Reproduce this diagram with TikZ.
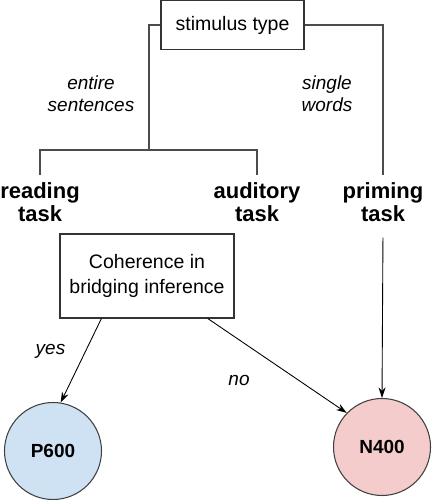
\documentclass[tikz,border=0pt]{standalone}
\usepackage{fontspec}
\setmainfont{Liberation Sans}
\usetikzlibrary{arrows.meta}

\definecolor{p600blue}{HTML}{CFE2F3}
\definecolor{n400red}{HTML}{F4CCCC}

\begin{document}
\begin{tikzpicture}[
    box/.style={draw=black!80, line width=0.6pt, inner sep=0pt, align=center, font=\fontsize{11.1}{14.2}\selectfont},
    task/.style={align=center, inner sep=4pt, font=\bfseries\fontsize{12.5}{13.1}\selectfont},
    note/.style={align=center, inner sep=0pt, font=\itshape\fontsize{10.8}{12.5}\selectfont},
    erp/.style={circle, draw=black!75, line width=0.6pt, minimum size=1.94cm, inner sep=0pt, font=\bfseries\fontsize{10.8}{12}\selectfont},
    branch/.style={draw=black!70, line width=0.7pt},
    arr/.style={-{Stealth[length=6pt,width=4pt]}, line width=0.5pt}
]
    \useasboundingbox (0,0) rectangle (8.7,10);

    \node[box, minimum width=2.86cm, minimum height=0.98cm] (stim) at (4.65, 9.5) {stimulus type};

    \node[task] (reading) at (0.8, 5.96) {reading\\task};
    \node[task] (auditory) at (5.14, 5.96) {auditory\\task};
    \node[task] (priming) at (7.66, 5.96) {priming\\task};

    \coordinate (split) at (2.98, 7.0);
    \draw[branch] (stim.west) -| (split);
    \draw[branch] (reading.north) |- (split) -| (auditory.north);
    \draw[branch] (stim.east) -| (priming.north);

    \node[note] (entire) at (1.82, 8.12) {entire\\sentences};
    \node[note] (single) at (6.54, 8.12) {single\\words};

    \node[box, minimum width=3.48cm, minimum height=1.68cm] (coh) at (2.94, 4.48) {Coherence in\\bridging inference};

    \node[erp, fill=p600blue] (p600) at (1.06, 0.98) {P600};
    \node[erp, fill=n400red] (n400) at (7.64, 1.06) {N400};

    \draw[arr] (coh.223) -- (p600.81);
    \draw[arr] (coh.325) -- (n400.136);
    \draw[arr, shorten <=5pt] (priming.south) -- (n400.north);

    \node[note] (yes) at (1.01, 2.98) {yes};
    \node[note] (no) at (4.78, 2.4) {no};

\end{tikzpicture}
\end{document}
